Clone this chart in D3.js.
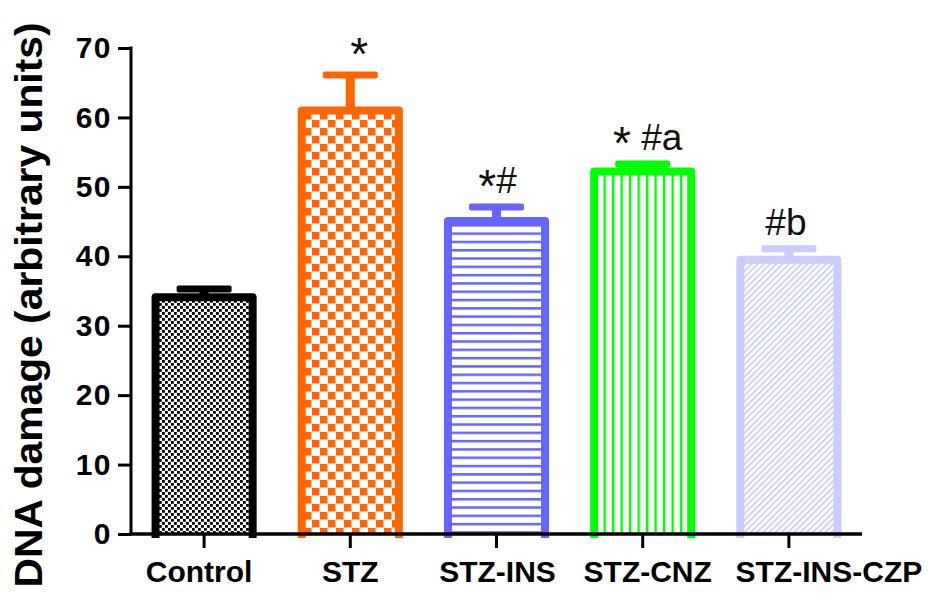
<!DOCTYPE html>
<html>
<head>
<meta charset="utf-8">
<script src="https://cdn.jsdelivr.net/npm/d3@7"></script>
<style>
  html, body { margin: 0; padding: 0; background: #fff; }
  svg { display: block; }
</style>
</head>
<body>
<svg id="chart" width="928" height="599"></svg>
<script>
// Group names, means, standard errors and significance marks
const categories = ["Control", "STZ", "STZ-INS", "STZ-CNZ", "STZ-INS-CZP"];
const means = [34.1, 61.0, 45.1, 52.2, 39.5];
const sems = [1.2, 5.1, 2.0, 1.1, 1.6];
const marks = ["", "*", "*#", "* #a", "#b"];
const yTicks = [0, 10, 20, 30, 40, 50, 60, 70];
const yTitle = "DNA damage (arbitrary units)";

// Styling per group
const colors = ["#000000", "#FF6600", "#6666FF", "#00FF00", "#CCCCFF"];
const labelNudge = [-5, 0, 1, 5, 40];
const markNudge = [0, 9, 1, 5, -3];

const svg = d3.select("#chart");
const font = "'Liberation Sans', Arial, Helvetica, sans-serif";

const x0 = 131, x1 = 862, yBase = 534, yTop = 48;

const x = d3.scaleBand()
  .domain(categories)
  .range([x0, x1])
  .paddingInner(0.336)
  .paddingOuter(0.168);

const y = d3.scaleLinear().domain([0, 70]).range([yBase, yTop]);

// Fill patterns
const defs = svg.append("defs");

// Control: fine checker
let p = defs.append("pattern").attr("id", "pat0").attr("patternUnits", "userSpaceOnUse")
  .attr("width", 6).attr("height", 6);
p.append("rect").attr("width", 6).attr("height", 6).attr("fill", "#fff");
p.append("rect").attr("x", 0).attr("y", 0).attr("width", 2.8).attr("height", 2.8).attr("fill", colors[0]);
p.append("rect").attr("x", 3).attr("y", 3).attr("width", 2.8).attr("height", 2.8).attr("fill", colors[0]);

// STZ: coarse checker
p = defs.append("pattern").attr("id", "pat1").attr("patternUnits", "userSpaceOnUse")
  .attr("width", 16).attr("height", 16);
p.append("rect").attr("width", 16).attr("height", 16).attr("fill", "#fff");
p.append("rect").attr("x", 0).attr("y", 0).attr("width", 7.5).attr("height", 7.5).attr("fill", colors[1]);
p.append("rect").attr("x", 8).attr("y", 8).attr("width", 7.5).attr("height", 7.5).attr("fill", colors[1]);

// STZ-INS: horizontal stripes
p = defs.append("pattern").attr("id", "pat2").attr("patternUnits", "userSpaceOnUse")
  .attr("width", 10).attr("height", 8.3);
p.append("rect").attr("width", 10).attr("height", 8.3).attr("fill", "#fff");
p.append("rect").attr("x", 0).attr("y", 0).attr("width", 10).attr("height", 2.5).attr("fill", colors[2]);

// STZ-CNZ: vertical stripes
p = defs.append("pattern").attr("id", "pat3").attr("patternUnits", "userSpaceOnUse")
  .attr("width", 8.5).attr("height", 10);
p.append("rect").attr("width", 8.5).attr("height", 10).attr("fill", "#fff");
p.append("rect").attr("x", 0).attr("y", 0).attr("width", 2.4).attr("height", 10).attr("fill", colors[3]);

// STZ-INS-CZP: diagonal hatch
p = defs.append("pattern").attr("id", "pat4").attr("patternUnits", "userSpaceOnUse")
  .attr("width", 4.4).attr("height", 10).attr("patternTransform", "rotate(45)");
p.append("rect").attr("width", 4.4).attr("height", 10).attr("fill", "#fff");
p.append("rect").attr("x", 0).attr("y", 0).attr("width", 1.7).attr("height", 10).attr("fill", colors[4]);

const data = categories.map((c, i) => ({ c, i, m: means[i], s: sems[i], mark: marks[i] }));
const bw = x.bandwidth();

const g = svg.append("g");

// Bar fills
g.selectAll("rect.fill").data(data).join("rect")
  .attr("class", "fill")
  .attr("x", d => x(d.c))
  .attr("y", d => y(d.m))
  .attr("width", bw)
  .attr("height", d => y(0) - y(d.m))
  .attr("fill", d => `url(#pat${d.i})`);

// Bar outlines (open at the bottom)
g.selectAll("path.outline").data(data).join("path")
  .attr("class", "outline")
  .attr("d", d => `M${x(d.c)},${y(0) + 4}V${y(d.m)}H${x(d.c) + bw}V${y(0) + 4}`)
  .attr("fill", "none")
  .attr("stroke", d => colors[d.i])
  .attr("stroke-width", 8)
  .attr("stroke-linejoin", "round");

// Error bars (upper half)
g.selectAll("rect.stem").data(data).join("rect")
  .attr("class", "stem")
  .attr("x", d => x(d.c) + bw / 2 - 4.5)
  .attr("y", d => y(d.m + d.s))
  .attr("width", 9)
  .attr("height", d => y(d.m) - y(d.m + d.s))
  .attr("fill", d => colors[d.i]);

g.selectAll("rect.cap").data(data).join("rect")
  .attr("class", "cap")
  .attr("x", d => x(d.c) + bw / 2 - 27.5)
  .attr("y", d => y(d.m + d.s) - 3.5)
  .attr("width", 55)
  .attr("height", 7)
  .attr("rx", 2)
  .attr("fill", d => colors[d.i]);

// Significance marks
const mk = g.selectAll("text.mark").data(data.filter(d => d.mark)).join("text")
  .attr("class", "mark")
  .attr("x", d => x(d.c) + bw / 2 + markNudge[d.i])
  .attr("y", d => y(d.m + d.s) - 14)
  .attr("text-anchor", "middle")
  .attr("font-family", font)
  .attr("font-size", 37)
  .attr("fill", "#111");

mk.each(function(d) {
  const t = d3.select(this);
  let shifted = false;
  for (const ch of d.mark) {
    if (ch === "*") {
      t.append("tspan").attr("font-size", 46).attr("dy", shifted ? 0 : 9).text(ch);
      shifted = true;
    } else {
      t.append("tspan").attr("dy", shifted ? -9 : 0).text(ch);
      shifted = false;
    }
  }
});

// Y axis
const yAxis = svg.append("g")
  .attr("transform", `translate(${x0},0)`)
  .call(d3.axisLeft(y).tickValues(yTicks).tickSize(13).tickSizeOuter(0).tickPadding(6));
yAxis.select(".domain").attr("stroke", "#000").attr("stroke-width", 3)
  .attr("d", `M0,${yBase + 1.5}V${yTop - 1.5}`);
yAxis.selectAll(".tick line").attr("stroke", "#000").attr("stroke-width", 3);
yAxis.selectAll(".tick text")
  .attr("font-family", font)
  .attr("font-size", 30)
  .attr("font-weight", "bold")
  .attr("letter-spacing", 1.5)
  .attr("fill", "#000");

// X axis
const xAxis = svg.append("g")
  .attr("transform", `translate(0,${yBase})`)
  .call(d3.axisBottom(x).tickSize(14).tickSizeOuter(0).tickPadding(20));
xAxis.select(".domain").attr("stroke", "#000").attr("stroke-width", 3.5)
  .attr("d", `M${x0 - 1.5},0H${x1}`);
xAxis.selectAll(".tick line").attr("stroke", "#000").attr("stroke-width", 3);
xAxis.selectAll(".tick text")
  .attr("font-family", font)
  .attr("font-size", 30)
  .attr("font-weight", "bold")
  .attr("fill", "#000")
  .attr("dy", null)
  .attr("y", 48)
  .attr("x", (d, i) => labelNudge[i]);

// Y axis title
svg.append("text")
  .attr("transform", "translate(42,305) rotate(-90)")
  .attr("text-anchor", "middle")
  .attr("font-family", font)
  .attr("font-size", 38)
  .attr("font-weight", "bold")
  .attr("textLength", 565)
  .attr("lengthAdjust", "spacingAndGlyphs")
  .attr("fill", "#000")
  .text(yTitle);
</script>
</body>
</html>
